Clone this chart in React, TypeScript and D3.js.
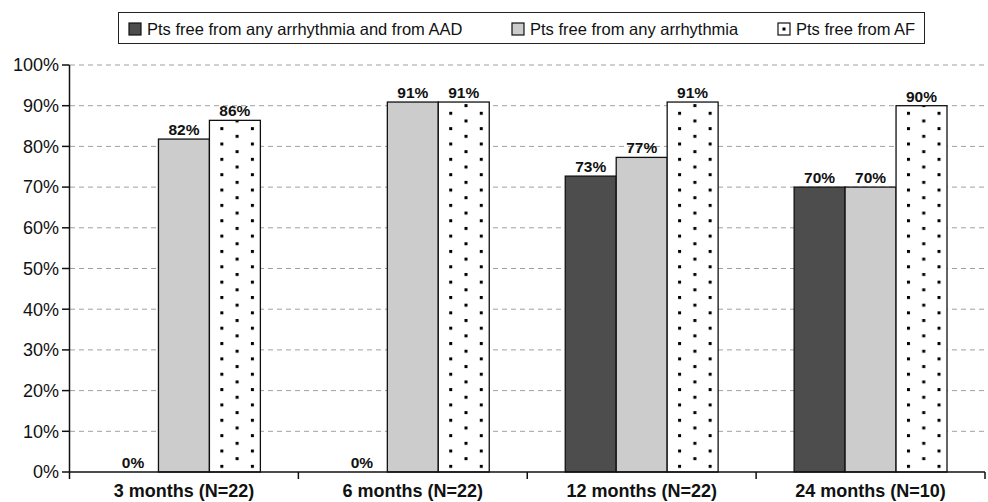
import React from "react";
import * as d3 from "d3";

const categories = ["3 months (N=22)", "6 months (N=22)", "12 months (N=22)", "24 months (N=10)"];
const seriesNames = [
  "Pts free from any arrhythmia and from AAD",
  "Pts free from any arrhythmia",
  "Pts free from AF",
];
const freeFromAnyAndAAD = [0, 0, 72.7, 70];
const freeFromAny = [81.8, 90.9, 77.3, 70];
const freeFromAF = [86.4, 90.9, 90.9, 90];
const yTicks = [0, 10, 20, 30, 40, 50, 60, 70, 80, 90, 100];

const W = 988;
const H = 502;
const FONT = "'Liberation Sans', Arial, Helvetica, sans-serif";

export default function App() {
  const series = [freeFromAnyAndAAD, freeFromAny, freeFromAF];
  const x0 = d3.scaleBand<string>().domain(categories).range([69.5, 985]).padding(0);
  const inner = 38;
  const x1 = d3
    .scaleBand<number>()
    .domain([0, 1, 2])
    .range([inner, x0.bandwidth() - inner])
    .padding(0);
  const y = d3.scaleLinear().domain([0, 100]).range([472, 65]);

  const fills = ["#4d4d4d", "#cccccc", "url(#dots)"];

  const legendItems = [
    { sx: 129, tx: 147 },
    { sx: 512, tx: 530 },
    { sx: 778, tx: 796 },
  ];

  return (
    <svg
      width={W}
      height={H}
      style={{ position: "absolute", left: 0, top: 0, background: "#fff" }}
      fontFamily={FONT}
    >
      <defs>
        <pattern
          id="dots"
          patternUnits="userSpaceOnUse"
          x={670.2}
          y={111.8}
          width={30.55}
          height={15.35}
        >
          <rect x={0} y={0} width={30.55} height={15.35} fill="#fff" />
          <rect x={0} y={0} width={3} height={3} fill="#000" />
          <rect x={15.27} y={7.67} width={3} height={3} fill="#000" />
        </pattern>
      </defs>

      {/* gridlines */}
      {yTicks
        .filter((t) => t > 0)
        .map((t) => (
          <line
            key={"g" + t}
            x1={70}
            x2={985}
            y1={y(t)}
            y2={y(t)}
            stroke="#a0a0a0"
            strokeWidth={1}
            strokeDasharray="5,4"
          />
        ))}

      {/* bars */}
      {categories.map((c, ci) => (
        <g key={c} transform={`translate(${x0(c)},0)`}>
          {series.map((s, si) => {
            const v = s[ci];
            const bx = x1(si)!;
            const bw = x1.bandwidth();
            return (
              <g key={si}>
                {v > 0 && (
                  <rect
                    x={bx}
                    y={y(v)}
                    width={bw}
                    height={y(0) - y(v)}
                    fill={fills[si]}
                    stroke="#111"
                    strokeWidth={1.3}
                  />
                )}
                <text
                  x={bx + bw / 2}
                  y={y(v) - 4}
                  textAnchor="middle"
                  fontWeight="bold"
                  fontSize={15.5}
                  fill="#111"
                >
                  {Math.round(v)}%
                </text>
              </g>
            );
          })}
        </g>
      ))}

      {/* y axis */}
      <line x1={69.5} x2={69.5} y1={y(100)} y2={479} stroke="#111" strokeWidth={1.5} />
      {yTicks.map((t) => (
        <g key={"t" + t}>
          <line x1={62} x2={69.5} y1={y(t)} y2={y(t)} stroke="#111" strokeWidth={1.5} />
          <text
            x={59}
            y={y(t)}
            dy="0.35em"
            textAnchor="end"
            fontSize={18}
            fill="#111"
          >
            {t}%
          </text>
        </g>
      ))}

      {/* x axis */}
      <line x1={69.5} x2={985} y1={y(0)} y2={y(0)} stroke="#111" strokeWidth={1.5} />
      {categories.map((c) => (
        <line
          key={"xt" + c}
          x1={x0(c)! + x0.bandwidth()}
          x2={x0(c)! + x0.bandwidth()}
          y1={y(0)}
          y2={479}
          stroke="#111"
          strokeWidth={1.5}
        />
      ))}
      {categories.map((c) => (
        <text
          key={"xl" + c}
          x={x0(c)! + x0.bandwidth() / 2}
          y={497}
          textAnchor="middle"
          fontWeight="bold"
          fontSize={18}
          fill="#111"
        >
          {c}
        </text>
      ))}

      {/* legend */}
      <rect x={118.5} y={12.5} width={806} height={31} fill="#fff" stroke="#222" strokeWidth={1} />
      {seriesNames.map((n, i) => (
        <g key={n}>
          <rect
            x={legendItems[i].sx}
            y={23}
            width={12}
            height={12}
            fill={i === 2 ? "#fff" : fills[i]}
            stroke="#111"
            strokeWidth={1.2}
          />
          {i === 2 && (
            <rect x={legendItems[i].sx + 4.5} y={27.5} width={3} height={3} fill="#000" />
          )}
          <text x={legendItems[i].tx} y={35} fontSize={16.5} fill="#111">
            {n}
          </text>
        </g>
      ))}
    </svg>
  );
}
